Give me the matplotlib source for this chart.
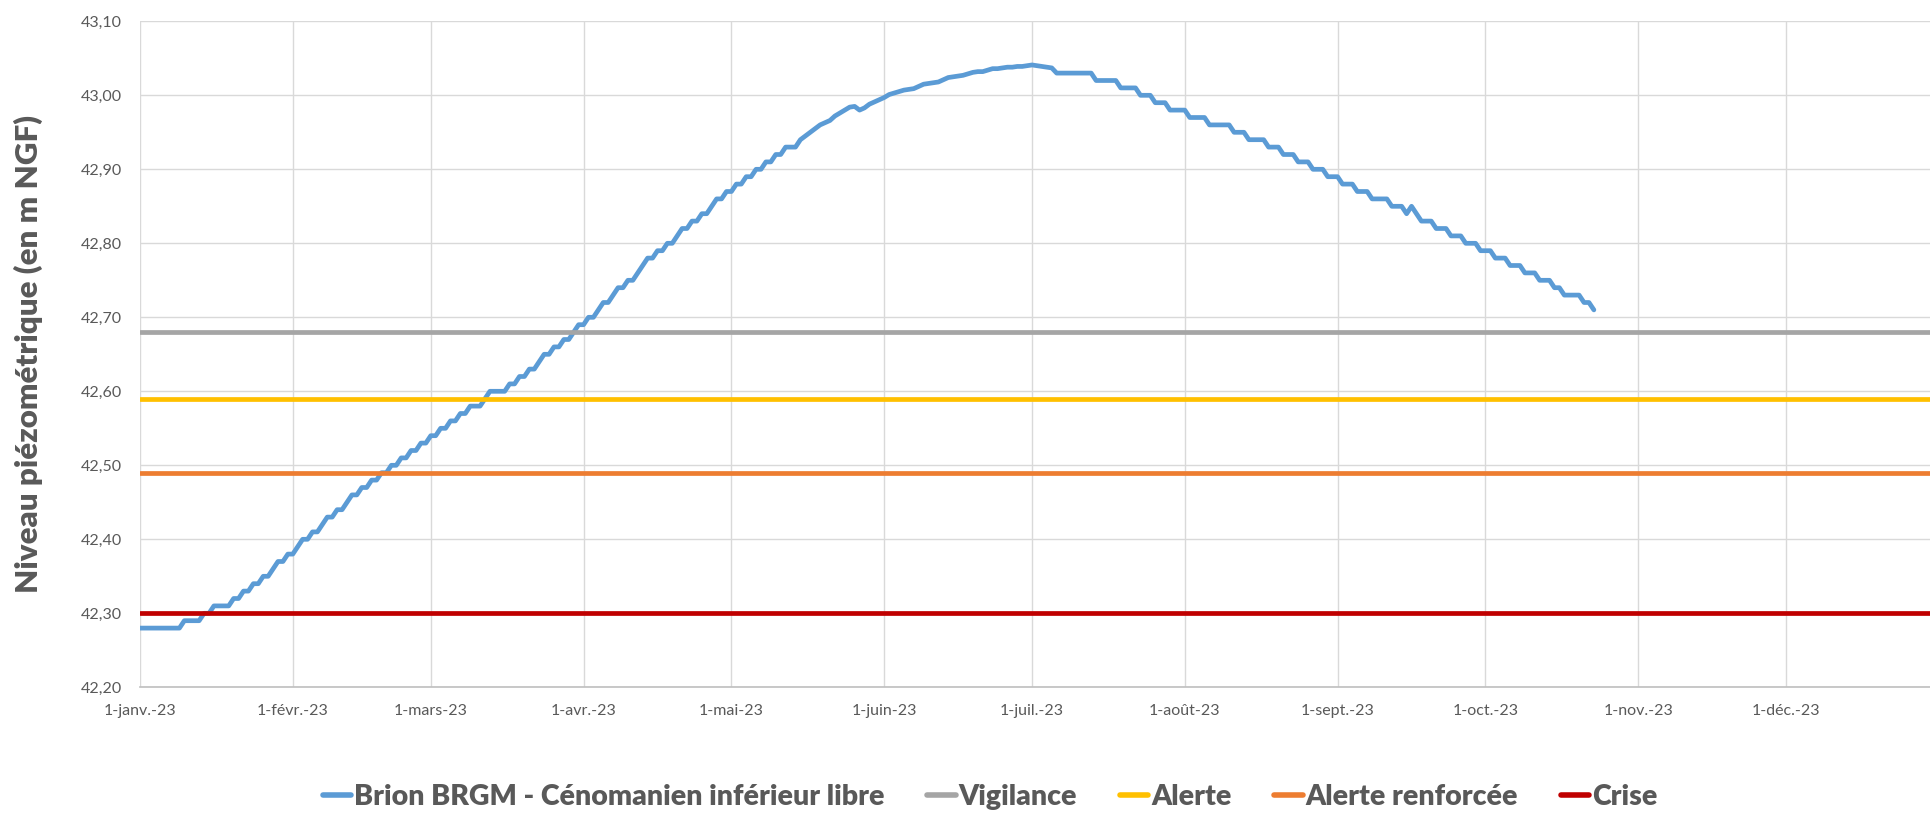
import matplotlib

matplotlib.use("Agg")
import matplotlib.dates as mdates
import matplotlib.pyplot as plt
import pandas as pd
from matplotlib.ticker import FuncFormatter, MultipleLocator

plt.rcParams["font.family"] = ["Lato", "DejaVu Sans"]

# Daily groundwater level at Brion (m NGF), 2023, one list per month
JAN = [42.28, 42.28, 42.28, 42.28, 42.28, 42.28, 42.28, 42.28, 42.28,
       42.29, 42.29, 42.29, 42.29, 42.30, 42.30, 42.31, 42.31, 42.31, 42.31,
       42.32, 42.32, 42.33, 42.33, 42.34, 42.34, 42.35, 42.35, 42.36,
       42.37, 42.37, 42.38]
FEB = [42.38, 42.39, 42.40, 42.40, 42.41, 42.41, 42.42, 42.43, 42.43,
       42.44, 42.44, 42.45, 42.46, 42.46, 42.47, 42.47, 42.48, 42.48,
       42.49, 42.49, 42.50, 42.50, 42.51, 42.51, 42.52, 42.52, 42.53, 42.53]
MAR = [42.54, 42.54, 42.55, 42.55, 42.56, 42.56, 42.57, 42.57, 42.58, 42.58,
       42.58, 42.59, 42.60, 42.60, 42.60, 42.60, 42.61, 42.61, 42.62, 42.62,
       42.63, 42.63, 42.64, 42.65, 42.65, 42.66, 42.66, 42.67, 42.67, 42.68,
       42.69]
APR = [42.69, 42.70, 42.70, 42.71, 42.72, 42.72, 42.73, 42.74, 42.74, 42.75,
       42.75, 42.76, 42.77, 42.78, 42.78, 42.79, 42.79, 42.80, 42.80, 42.81,
       42.82, 42.82, 42.83, 42.83, 42.84, 42.84, 42.85, 42.86, 42.86, 42.87]
MAY = [42.87, 42.88, 42.88, 42.89, 42.89, 42.90, 42.90, 42.91, 42.91, 42.92,
       42.92, 42.93, 42.93, 42.93, 42.940, 42.945, 42.950, 42.955, 42.960, 42.963,
       42.966, 42.972, 42.976, 42.980, 42.984, 42.985, 42.980, 42.983, 42.988, 42.991,
       42.994]
JUN = [42.997, 43.001, 43.003, 43.005, 43.007, 43.008, 43.009, 43.012, 43.015, 43.016,
       43.017, 43.018, 43.021, 43.024, 43.025, 43.026, 43.027, 43.029, 43.031, 43.032,
       43.032, 43.034, 43.036, 43.036, 43.037, 43.038, 43.038, 43.039, 43.039, 43.040]
JUL = [43.041, 43.040, 43.039, 43.038, 43.037, 43.03, 43.03, 43.03, 43.03, 43.03,
       43.03, 43.03, 43.03, 43.02, 43.02, 43.02, 43.02, 43.02, 43.01, 43.01,
       43.01, 43.01, 43.00, 43.00, 43.00, 42.99, 42.99, 42.99, 42.98, 42.98,
       42.98]
AUG = [42.98, 42.97, 42.97, 42.97, 42.97, 42.96, 42.96, 42.96, 42.96, 42.96,
       42.95, 42.95, 42.95, 42.94, 42.94, 42.94, 42.94, 42.93, 42.93, 42.93,
       42.92, 42.92, 42.92, 42.91, 42.91, 42.91, 42.90, 42.90, 42.90, 42.89,
       42.89]
SEP = [42.89, 42.88, 42.88, 42.88, 42.87, 42.87, 42.87, 42.86, 42.86, 42.86,
       42.86, 42.85, 42.85, 42.85, 42.84, 42.85, 42.84, 42.83, 42.83, 42.83,
       42.82, 42.82, 42.82, 42.81, 42.81, 42.81, 42.80, 42.80, 42.80, 42.79]
OCT = [42.79, 42.79, 42.78, 42.78, 42.78, 42.77, 42.77, 42.77, 42.76, 42.76,
       42.76, 42.75, 42.75, 42.75, 42.74, 42.74, 42.73, 42.73, 42.73, 42.73,
       42.72, 42.72, 42.71]

LEVEL = JAN + FEB + MAR + APR + MAY + JUN + JUL + AUG + SEP + OCT
SERIES_NAME = "Brion BRGM - Cénomanien inférieur libre"

THRESHOLD_NAMES = ["Vigilance", "Alerte", "Alerte renforcée", "Crise"]
THRESHOLD_VALUES = [42.68, 42.59, 42.49, 42.30]

MONTH_LABELS = ["janv.", "févr.", "mars", "avr.", "mai", "juin",
                "juil.", "août", "sept.", "oct.", "nov.", "déc."]

BLUE = "#5B9BD5"
THRESHOLD_COLORS = ["#A5A5A5", "#FFC000", "#ED7D31", "#C00000"]
TEXT = "#595959"
GRID = "#D9D9D9"

dates = pd.date_range("2023-01-01", periods=len(LEVEL), freq="D")

fig = plt.figure(figsize=(19.3, 8.13), dpi=100)
fig.patch.set_facecolor("white")
ax = fig.add_axes([140 / 1930, 1 - 687.3 / 813, 1 - 140 / 1930, (687.3 - 21.3) / 813])

ax.plot(dates, LEVEL, color=BLUE, lw=3.4, solid_capstyle="round",
        solid_joinstyle="round", label=SERIES_NAME, zorder=3)
for name, value, color in zip(THRESHOLD_NAMES, THRESHOLD_VALUES, THRESHOLD_COLORS):
    ax.axhline(value, color=color, lw=3.4, solid_capstyle="round", label=name, zorder=4)

x0 = mdates.date2num(pd.Timestamp("2023-01-01"))
ax.set_xlim(x0, x0 + 363.2)
ax.set_ylim(42.20, 43.10)

ax.xaxis.set_major_locator(mdates.MonthLocator())
ax.xaxis.set_major_formatter(FuncFormatter(
    lambda x, pos: f"1-{MONTH_LABELS[mdates.num2date(x).month - 1]}-23"))
ax.yaxis.set_major_locator(MultipleLocator(0.10))
ax.yaxis.set_major_formatter(FuncFormatter(lambda v, pos: f"{v:.2f}".replace(".", ",")))

ax.grid(True, color=GRID, lw=1.0, zorder=0)
ax.set_axisbelow(True)
ax.tick_params(length=0, labelsize=11.5, labelcolor=TEXT)
ax.tick_params(axis="x", pad=12)
ax.tick_params(axis="y", pad=13)
for side in ["top", "right", "left"]:
    ax.spines[side].set_visible(False)
ax.spines["bottom"].set_color("#BFBFBF")
ax.spines["bottom"].set_linewidth(1.2)

fig.text(28 / 1930, 1 - 354 / 813, "Niveau piézométrique (en m NGF)", rotation=90,
         ha="center", va="center", fontsize=22.5, fontweight="heavy", color=TEXT)

leg = fig.legend(loc="center", bbox_to_anchor=(990 / 1930, 1 - 797 / 813), ncol=5,
                 frameon=False, fontsize=20.5, handlelength=1.0, handletextpad=0.1,
                 columnspacing=1.5)
for text in leg.get_texts():
    text.set_color(TEXT)
    text.set_fontweight("heavy")
for handle in leg.legend_handles:
    handle.set_linewidth(4.0)

fig.savefig("out.png", dpi=100, facecolor="white")
